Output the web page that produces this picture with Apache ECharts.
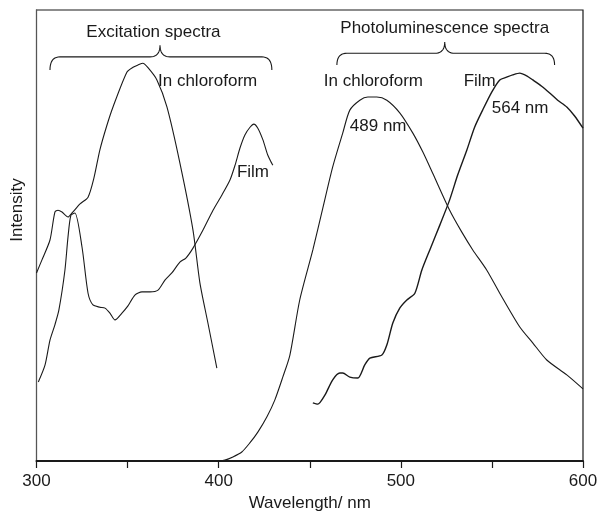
<!DOCTYPE html>
<html>
<head>
<meta charset="utf-8">
<script src="https://cdn.jsdelivr.net/npm/echarts@6/dist/echarts.min.js"></script>
<style>
  html, body { margin: 0; padding: 0; background: #fff; }
  #chart { width: 598px; height: 511px; }
</style>
</head>
<body>
<div id="chart"></div>
<script>
// excitation spectrum, in chloroform  [wavelength nm, intensity a.u.]
var excChloroform = [
  [300, 41.7], [303, 44.6], [307.4, 49], [310.1, 55.2], [311.8, 55.6], [314, 55.2],
  [317.3, 54.1], [319.5, 55], [323.9, 57], [328.3, 58.5], [331.5, 62.7], [334.8, 69],
  [338.7, 74.5], [342, 78.5], [349.6, 86.2], [353, 87.3], [355.7, 87.8], [358.4, 88.2],
  [361.2, 87.2], [366.1, 84.5], [371.6, 78.5], [378.7, 66.1], [385.9, 51.2], [389.7, 39.5],
  [394.1, 30.6], [399, 20.6]
];
// excitation spectrum, film
var excFilm = [
  [301, 17.5], [304.7, 21.3], [307.4, 26.8], [310.1, 30.2], [312.3, 33.5], [315.6, 42.3],
  [317.3, 49.7], [318.9, 54.5], [321.1, 55], [325, 47.4], [328.3, 37.2], [331, 34.6],
  [334.8, 34.1], [337.6, 33.9], [340.3, 32.8], [343.1, 31.3], [346.9, 32.8],
  [350.2, 34.4], [354, 36.8], [357.9, 37.5], [362.3, 37.5], [366.7, 37.9], [370.5, 40.1],
  [374.3, 41.7], [378.7, 44.1], [382, 45], [385.9, 47.2], [391.4, 51.2], [396.9, 55.6],
  [401.8, 59], [406.2, 62.3], [409, 65.6], [411.7, 69.4], [414.4, 72.3], [417.2, 74],
  [419.3, 74.7], [421.5, 73.8], [424.3, 71.2], [427, 67.8], [429.7, 65.6]
];
// photoluminescence, in chloroform (max 489 nm)
var plChloroform = [
  [400, 0], [403.4, 0.2], [407.8, 0.9], [412.7, 2], [417.1, 4], [421.5, 6.4], [426.5, 9.8],
  [430.8, 13.5], [435.2, 18.6], [439.1, 23.5], [444.5, 35.7], [451.7, 46.8], [457.2, 56.1],
  [462.6, 65.2], [468.1, 72.7], [472, 77.8], [477.5, 80], [481.9, 80.7], [486.8, 80.7],
  [492.3, 80], [499.4, 77.2], [506.6, 72.7], [512.1, 68.5], [517.5, 63.8], [526.8, 55.6],
  [533.4, 50.8], [539.5, 46.8], [547.2, 42.3], [554.3, 37.2], [565.3, 29.7], [572.4, 26.2],
  [580.1, 22.4], [591.1, 19.1], [600, 16]
];
// photoluminescence, film (max 564 nm)
var plFilm = [
  [451.7, 12.9], [454.4, 12.6], [458.3, 14.6], [462.6, 18], [466.5, 19.5], [468.1, 19.5],
  [472, 18.6], [476.4, 18.4], [480.2, 21.3], [483, 22.8], [489.6, 23.5], [492.3, 25.7],
  [495.6, 30.6], [499.4, 33.9], [503.3, 35.7], [507.7, 37.2], [511.5, 42.3], [515.9, 46.8],
  [521.4, 52.3], [526.8, 57.9], [531.2, 63.4], [536.2, 68.9], [540.5, 74], [544.9, 77.8],
  [549.9, 81.8], [554.3, 84.5], [558.1, 85.1], [561.4, 85.6], [565.3, 86], [569.1, 85.4],
  [572.4, 84.5], [577.3, 83.1], [581.7, 81.6], [586.1, 80], [591.1, 78.5], [595.4, 76.5],
  [600, 73.8]
];

// annotations (data coords)
var notes = [
  { text: 'Excitation spectra', x: 364.2, y: 95.1, align: 'center' },
  { text: 'Photoluminescence spectra', x: 524.1, y: 96, align: 'center' },
  { text: 'In chloroform', x: 366.7, y: 84.2, align: 'left' },
  { text: 'Film', x: 410, y: 64.1, align: 'left' },
  { text: 'In chloroform', x: 457.7, y: 84.2, align: 'left' },
  { text: '489 nm', x: 472, y: 74.3, align: 'left' },
  { text: 'Film', x: 534.5, y: 84.2, align: 'left' },
  { text: '564 nm', x: 549.9, y: 78.3, align: 'left' }
];
// braces: left, middle, right wavelength; tip, line and cusp heights
var braces = [
  { xl: 307.4, xm: 367.8, xr: 429.2, tip: 86.7, line: 89.6, cusp: 92.2 },
  { xl: 464.9, xm: 524.1, xr: 584.4, tip: 87.8, line: 90.4, cusp: 92.9 }
];

var FONT = 'Liberation Sans, Arial, sans-serif';
var INK = '#1a1a1a';

var myChart = echarts.init(document.getElementById('chart'));

function lineSeries(data, w) {
  return {
    type: 'line',
    data: data,
    showSymbol: false,
    smooth: 0.25,
    lineStyle: { color: INK, width: w || 1.1 },
    animation: false
  };
}

var option = {
  backgroundColor: '#fff',
  animation: false,
  grid: {
    left: 36.5, right: 15, top: 10, bottom: 50,
    outerBoundsMode: 'none',
    containLabel: false,
    show: true, borderColor: INK, borderWidth: 1.2
  },
  xAxis: {
    type: 'value',
    min: 300, max: 600, interval: 50,
    name: 'Wavelength/ nm',
    nameLocation: 'middle',
    nameGap: 33,
    nameTextStyle: { fontFamily: FONT, fontSize: 17, color: INK },
    axisLine: { lineStyle: { color: INK, width: 2 } },
    axisTick: { show: true, inside: false, length: 7, lineStyle: { color: INK, width: 1.2 } },
    axisLabel: {
      margin: 12, fontFamily: FONT, fontSize: 17, color: INK,
      formatter: function (v) { return v % 100 === 0 ? String(v) : ''; }
    },
    splitLine: { show: false }
  },
  yAxis: {
    type: 'value',
    min: 0, max: 100,
    axisLine: { show: true, lineStyle: { color: '#555', width: 1 } },
    axisTick: { show: false },
    axisLabel: { show: false },
    splitLine: { show: false }
  },
  series: [
    lineSeries(excChloroform),
    lineSeries(excFilm),
    lineSeries(plChloroform),
    lineSeries(plFilm, 1.4)
  ]
};
myChart.setOption(option);

// annotations placed through the chart's own scale
function px(x, y) { return myChart.convertToPixel({ gridIndex: 0 }, [x, y]); }
// sample a quadratic bezier into points
function quad(p0, c, p1, out) {
  for (var t = 0; t <= 1.0001; t += 0.1) {
    var a = (1 - t) * (1 - t), b = 2 * (1 - t) * t, d = t * t;
    out.push([a * p0[0] + b * c[0] + d * p1[0], a * p0[1] + b * c[1] + d * p1[1]]);
  }
}
var elements = [];
// y axis title, sits a little above the middle of the axis
elements.push({
  type: 'text', x: 17, y: 210, rotation: Math.PI / 2, silent: true,
  style: { text: 'Intensity', fill: INK, font: '17px ' + FONT, textAlign: 'center', textVerticalAlign: 'middle' }
});
notes.forEach(function (n) {
  var p = px(n.x, n.y);
  elements.push({
    type: 'text', x: p[0], y: p[1], silent: true,
    style: {
      text: n.text, fill: INK, font: '17px ' + FONT,
      textAlign: n.align, textVerticalAlign: 'middle'
    }
  });
});
braces.forEach(function (b) {
  var l = px(b.xl, b.tip), m = px(b.xm, b.cusp), r = px(b.xr, b.tip);
  var yl = px(b.xl, b.line)[1];
  var pts = [];
  quad(l, [l[0], yl], [l[0] + 10, yl], pts);
  quad([m[0] - 10, yl], [m[0], yl], m, pts);
  quad(m, [m[0], yl], [m[0] + 10, yl], pts);
  quad([r[0] - 10, yl], [r[0], yl], r, pts);
  elements.push({
    type: 'polyline', silent: true,
    shape: { points: pts },
    style: { fill: null, stroke: INK, lineWidth: 1.1 }
  });
});
myChart.setOption({ graphic: elements });

window.addEventListener('resize', function () { myChart.resize(); });
</script>
</body>
</html>
